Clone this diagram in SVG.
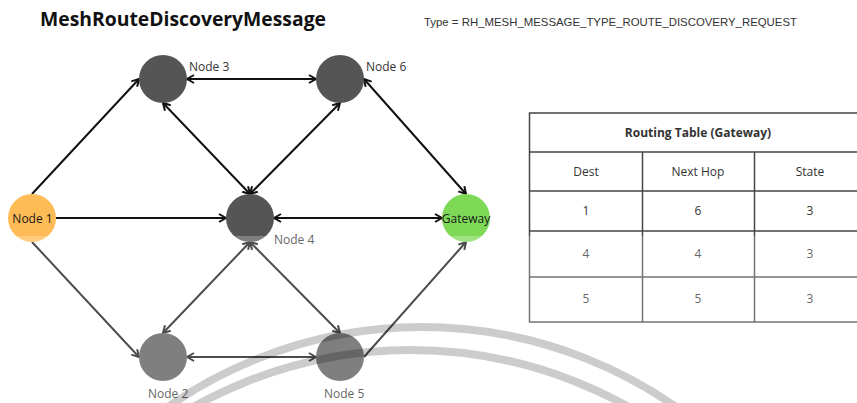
<svg xmlns="http://www.w3.org/2000/svg" width="857" height="403" viewBox="0 0 857 403">
  <style>
    .lbl { font-family: "Open Sans", "Noto Sans", sans-serif; font-size: 12px; fill: #333; }
    .in { font-family: "Open Sans", "Noto Sans", sans-serif; font-size: 12px; fill: #1a1a1a; text-anchor: middle; }
    .conn { stroke: #111; stroke-width: 2; fill: none; }
    .grid { stroke: #444; stroke-width: 1.5; fill: none; }
    .cell { font-family: "Open Sans", "Noto Sans", sans-serif; font-size: 12px; fill: #333; text-anchor: middle; }
    .dark { fill: #555555; }
    .wm { fill: none; stroke: #000; stroke-opacity: 0.2; stroke-width: 8; }
  </style>
  <defs>
    <marker id="ah" viewBox="-9 -6 11 12" refX="0" refY="0" markerWidth="11" markerHeight="12" markerUnits="userSpaceOnUse" orient="auto-start-reverse">
      <path d="M-7,-4 L0,0 L-7,4" fill="none" stroke="#111" stroke-width="2" stroke-linejoin="miter"/>
    </marker>
  </defs>
  <rect x="0" y="0" width="857" height="403" fill="#ffffff"/>

  <text x="40" y="26" font-family="'Open Sans', 'Noto Sans', sans-serif" font-size="19.5" font-weight="bold" fill="#111" textLength="286" lengthAdjust="spacingAndGlyphs">MeshRouteDiscoveryMessage</text>
  <text x="424" y="26" font-family="'Liberation Sans', Arial, sans-serif" font-size="11" fill="#333" textLength="373" lengthAdjust="spacingAndGlyphs">Type = RH_MESH_MESSAGE_TYPE_ROUTE_DISCOVERY_REQUEST</text>

  <g id="connectors">
    <line class="conn" x1="32" y1="194" x2="139" y2="79" marker-end="url(#ah)"/>
    <line class="conn" x1="56" y1="218" x2="226" y2="218" marker-end="url(#ah)"/>
    <line class="conn" x1="32" y1="242" x2="139" y2="357" marker-end="url(#ah)"/>
    <line class="conn" x1="187" y1="79" x2="316" y2="79" marker-start="url(#ah)" marker-end="url(#ah)"/>
    <line class="conn" x1="163" y1="103" x2="250" y2="194" marker-start="url(#ah)" marker-end="url(#ah)"/>
    <line class="conn" x1="340" y1="103" x2="250" y2="194" marker-start="url(#ah)" marker-end="url(#ah)"/>
    <line class="conn" x1="364" y1="79" x2="466" y2="194" marker-start="url(#ah)" marker-end="url(#ah)"/>
    <line class="conn" x1="274" y1="218" x2="442" y2="218" marker-start="url(#ah)" marker-end="url(#ah)"/>
    <line class="conn" x1="250" y1="242" x2="163" y2="333" marker-start="url(#ah)" marker-end="url(#ah)"/>
    <line class="conn" x1="250" y1="242" x2="340" y2="333" marker-start="url(#ah)" marker-end="url(#ah)"/>
    <line class="conn" x1="187" y1="357" x2="316" y2="357" marker-start="url(#ah)" marker-end="url(#ah)"/>
    <line class="conn" x1="364" y1="357" x2="466" y2="242" marker-end="url(#ah)"/>
  </g>

  <g id="node1">
    <circle cx="32" cy="218" r="24" fill="#FFBB55"/>
    <text class="in" x="32.5" y="223">Node 1</text>
  </g>
  <g id="node3">
    <circle class="dark" cx="163" cy="79" r="24"/>
    <text class="lbl" x="189" y="71">Node 3</text>
  </g>
  <g id="node6">
    <circle class="dark" cx="340" cy="79" r="24"/>
    <text class="lbl" x="366" y="71">Node 6</text>
  </g>
  <g id="node4">
    <circle class="dark" cx="250" cy="218" r="24"/>
    <text class="lbl" x="274" y="244">Node 4</text>
  </g>
  <g id="gateway">
    <circle cx="466" cy="218" r="24" fill="#7ED957"/>
    <text class="in" x="466" y="223">Gateway</text>
  </g>
  <g id="node2">
    <circle class="dark" cx="163" cy="357" r="24"/>
    <text class="lbl" x="148" y="398">Node 2</text>
  </g>
  <g id="node5">
    <circle class="dark" cx="340" cy="357" r="24"/>
    <text class="lbl" x="324" y="398">Node 5</text>
  </g>

  <g id="routing-table">
    <rect class="grid" x="529.5" y="113" width="340" height="209"/>
    <line class="grid" x1="529.5" y1="152" x2="870" y2="152"/>
    <line class="grid" x1="529.5" y1="191" x2="870" y2="191"/>
    <line class="grid" x1="529.5" y1="231" x2="870" y2="231"/>
    <line class="grid" x1="529.5" y1="277" x2="870" y2="277"/>
    <line class="grid" x1="642.5" y1="152" x2="642.5" y2="322"/>
    <line class="grid" x1="754.5" y1="152" x2="754.5" y2="322"/>
    <text class="cell" x="698" y="137" font-weight="bold" font-size="11.5">Routing Table (Gateway)</text>
    <text class="cell" x="586" y="176">Dest</text>
    <text class="cell" x="698" y="176">Next Hop</text>
    <text class="cell" x="810" y="176">State</text>
    <text class="cell" x="586" y="215">1</text>
    <text class="cell" x="698" y="215">6</text>
    <text class="cell" x="810" y="215">3</text>
    <text class="cell" x="586" y="258">4</text>
    <text class="cell" x="698" y="258">4</text>
    <text class="cell" x="810" y="258">3</text>
    <text class="cell" x="586" y="303">5</text>
    <text class="cell" x="698" y="303">5</text>
    <text class="cell" x="810" y="303">3</text>
  </g>

  <rect x="0" y="236" width="857" height="167" fill="#ffffff" fill-opacity="0.25"/>

  <g id="watermark">
    <circle class="wm" cx="422" cy="770" r="443"/>
    <circle class="wm" cx="411" cy="794" r="444"/>
  </g>
</svg>
